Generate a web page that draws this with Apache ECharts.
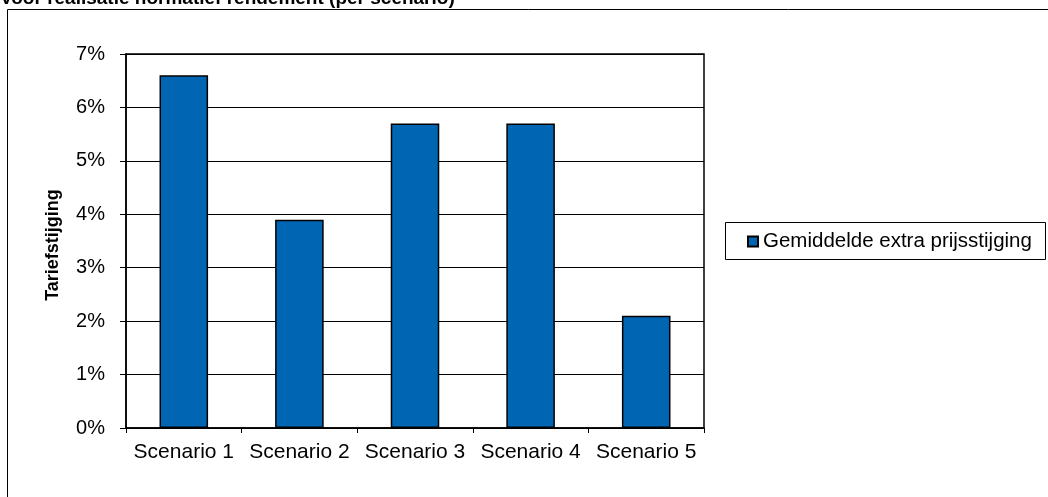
<!DOCTYPE html>
<html>
<head>
<meta charset="utf-8">
<script src="https://cdn.jsdelivr.net/npm/echarts@6/dist/echarts.min.js"></script>
<style>
html,body{margin:0;padding:0;background:#fff;}
#c{width:1048px;height:497px;}
</style>
</head>
<body>
<div id="c"></div>
<script>
const categories = ['Scenario 1', 'Scenario 2', 'Scenario 3', 'Scenario 4', 'Scenario 5'];
const seriesName = 'Gemiddelde extra prijsstijging';
const values = [6.6, 3.9, 5.7, 5.7, 2.1];
const yTicks = [0, 1, 2, 3, 4, 5, 6, 7];

const chart = echarts.init(document.getElementById('c'), null, {renderer: 'canvas'});
const F = 'Arial, "Liberation Sans", sans-serif';
chart.setOption({
  animation: false,
  backgroundColor: '#fff',
  title: {
    text: 'Voor realisatie normatief rendement (per scenario)',
    left: 0, top: -11, padding: 0,
    textStyle: {fontFamily: F, fontWeight: 'bold', fontSize: 19, color: '#000'}
  },
  graphic: [
    {type: 'rect', shape: {x: 7.5, y: 9.5, width: 1100, height: 600}, style: {fill: 'none', stroke: '#000', lineWidth: 1}, z: -1},
    {type: 'rect', shape: {x: 725.5, y: 222.5, width: 320, height: 37}, style: {fill: '#fff', stroke: '#000', lineWidth: 1}, z: 0}
  ],
  legend: {
    left: 747, top: 231, padding: 0,
    icon: 'rect', itemWidth: 10, itemHeight: 10, itemGap: 0,
    data: [seriesName],
    textStyle: {fontFamily: F, fontSize: 20.5, color: '#000', padding: [0, 0, 0, 0]},
    z: 5
  },
  grid: {left: 126, right: 344, top: 54, bottom: 69, show: true, borderColor: '#000', borderWidth: 1.5, containLabel: false},
  xAxis: {
    type: 'category', data: categories,
    axisLine: {lineStyle: {color: '#000', width: 1.5}},
    axisTick: {show: true, alignWithLabel: false, length: 5, lineStyle: {color: '#000'}},
    axisLabel: {fontFamily: F, fontSize: 21, color: '#000', margin: 14, interval: 0}
  },
  yAxis: {
    type: 'value', min: 0, max: 7, interval: 1,
    name: 'Tariefstijging', nameLocation: 'middle', nameGap: 64,
    nameTextStyle: {fontFamily: F, fontWeight: 'bold', fontSize: 18, color: '#000', padding: [0, 8, 0, 0]},
    axisLine: {show: true, lineStyle: {color: '#000', width: 1.5}},
    axisTick: {show: true, length: 6, lineStyle: {color: '#000'}},
    axisLabel: {fontFamily: F, fontSize: 20, color: '#000', margin: 21,
      formatter: v => yTicks.includes(v) ? v + '%' : ''},
    splitLine: {show: true, lineStyle: {color: '#000', width: 1}}
  },
  series: [{
    name: seriesName, type: 'bar', data: values,
    barWidth: '42%',
    itemStyle: {color: '#0066B3', borderColor: '#000', borderWidth: 1.5}
  }]
});
</script>
</body>
</html>
